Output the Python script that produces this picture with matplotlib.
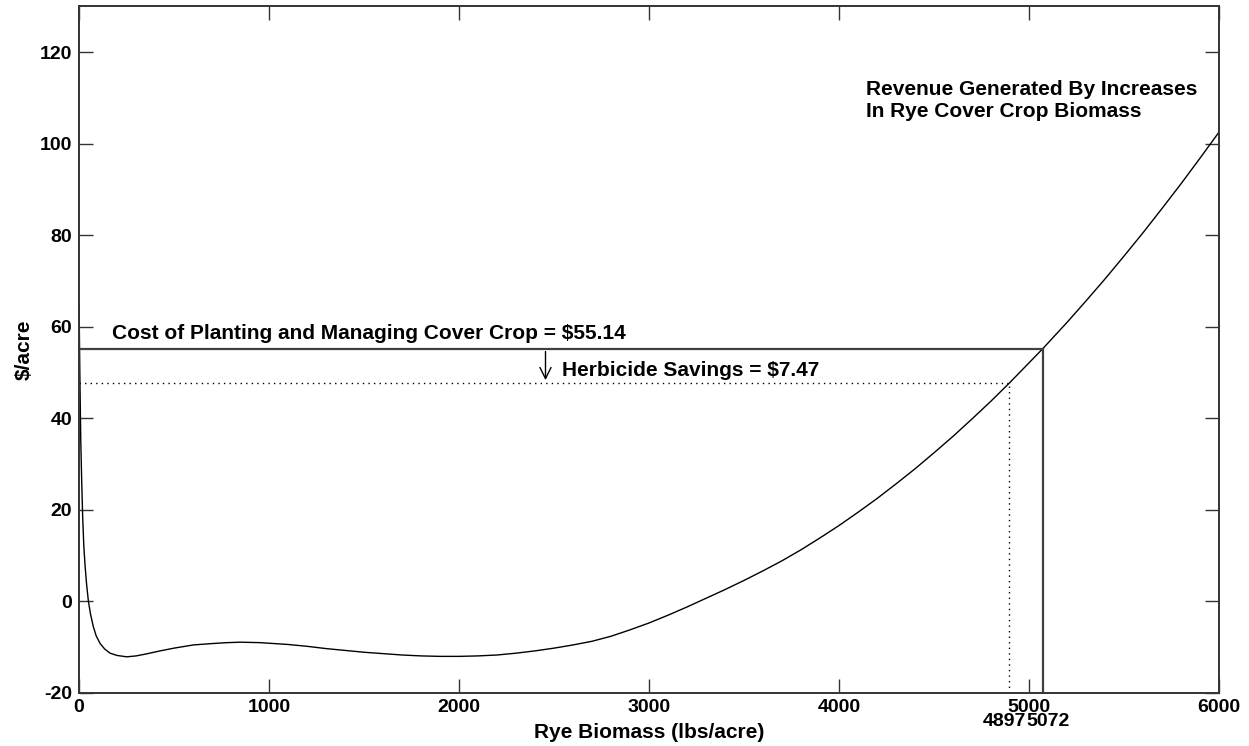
import matplotlib
matplotlib.use("Agg")
import matplotlib.pyplot as plt

plt.rcParams["font.family"] = ["Liberation Sans", "DejaVu Sans"]
plt.rcParams["font.weight"] = "bold"
plt.rcParams["axes.unicode_minus"] = False

# net revenue curve ($/acre vs lbs/acre)
biomass = [0, 4, 9, 14, 19, 25, 32, 40, 49, 60, 75, 90, 111, 135, 163, 200,
           251, 300, 350, 427, 500, 602, 700, 778, 850, 953,
           1100, 1200, 1300, 1400, 1500, 1600, 1700, 1800, 1900, 2000,
           2100, 2200, 2300, 2400, 2500, 2600, 2700, 2800, 2900, 3000,
           3100, 3200, 3300, 3400, 3500, 3600, 3700, 3800, 3900, 4000,
           4100, 4200, 4300, 4400, 4500, 4600, 4700, 4800, 4897, 5072,
           5200, 5300, 5400, 5500, 5600, 5700, 5800, 5900, 6000]
revenue = [65, 50, 35, 26, 18.4, 12, 7.5, 3.5, 0, -2.8, -5.6, -7.6, -9.3, -10.5,
           -11.4, -11.9, -12.2, -12.0, -11.6, -10.9, -10.3, -9.6, -9.3, -9.1,
           -9.0, -9.1,
           -9.5, -9.9, -10.4, -10.8, -11.2, -11.5, -11.8, -12.0, -12.1, -12.1,
           -12.0, -11.8, -11.4, -10.9, -10.3, -9.6, -8.8, -7.7, -6.3, -4.8,
           -3.1, -1.3, 0.6, 2.5, 4.5, 6.6, 8.8, 11.2, 13.8, 16.5,
           19.4, 22.4, 25.6, 28.9, 32.4, 36.0, 39.8, 43.7, 47.67, 55.14,
           60.9, 65.6, 70.4, 75.4, 80.5, 85.8, 91.2, 96.8, 102.5]

cost = 55.14
savings = 7.47
break_even = 5072
break_even_savings = 4897

x_ticks = [0, 1000, 2000, 3000, 4000, 5000, 6000]
y_ticks = [-20, 0, 20, 40, 60, 80, 100, 120]

fig = plt.figure(figsize=(12.49, 7.46), dpi=100)
ax = fig.add_axes([0.0633, 0.0717, 0.9127, 0.9199])

ax.plot(biomass, revenue, color="black", linewidth=1.0)

# cost line and its break-even
ax.plot([0, break_even], [cost, cost], color="#404040", linewidth=1.6)
ax.plot([break_even, break_even], [-20, cost], color="#404040", linewidth=1.6)

# cost minus herbicide savings
net = cost - savings
ax.plot([0, break_even_savings], [net, net], color="black", linewidth=1.0,
        linestyle=(0, (1, 3)))
ax.plot([break_even_savings, break_even_savings], [-20, net], color="black",
        linewidth=1.0, linestyle=(0, (1, 3)))

ax.annotate("", xy=(2455, net), xytext=(2455, cost),
            arrowprops=dict(arrowstyle="->", color="black", lw=1.0,
                            mutation_scale=20))

ax.text(175, 57.3, r"Cost of Planting and Managing Cover Crop = \$55.14",
        fontsize=15, fontweight="bold", va="baseline", ha="left")
ax.text(2540, 49.2, r"Herbicide Savings = \$7.47",
        fontsize=15, fontweight="bold", va="baseline", ha="left")
ax.text(4140, 110.5, "Revenue Generated By Increases",
        fontsize=15, fontweight="bold", va="baseline", ha="left")
ax.text(4140, 105.7, "In Rye Cover Crop Biomass",
        fontsize=15, fontweight="bold", va="baseline", ha="left")

ax.set_xlim(0, 6000)
ax.set_ylim(-20, 130)
ax.set_xticks(x_ticks)
ax.set_yticks(y_ticks)
ax.tick_params(direction="in", length=10, width=1.0, labelsize=14, pad=5,
               top=True, right=True, color="#333333")
for lab in ax.get_xticklabels() + ax.get_yticklabels():
    lab.set_fontweight("bold")

# extra labels for the two break-even points, just under the 5000 label
mid = (break_even_savings + break_even) / 2
ax.text(mid, -24.5, str(break_even_savings), fontsize=14, fontweight="bold",
        ha="right", va="top", clip_on=False)
ax.text(mid, -24.5, str(break_even), fontsize=14, fontweight="bold",
        ha="left", va="top", clip_on=False)

for sp in ax.spines.values():
    sp.set_linewidth(1.4)
    sp.set_color("#333333")

ax.set_xlabel("Rye Biomass (lbs/acre)", fontsize=15, fontweight="bold")
ax.xaxis.set_label_coords(0.5, -0.045)
ax.set_ylabel(r"\$/acre", fontsize=15, fontweight="bold")
ax.yaxis.set_label_coords(-0.04, 0.5)

fig.savefig("out.png", dpi=100)
